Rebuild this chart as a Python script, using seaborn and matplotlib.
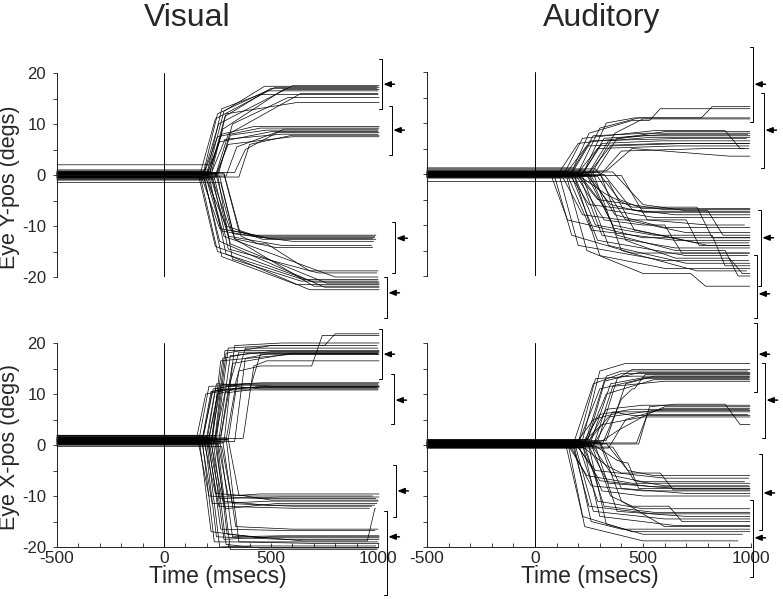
import matplotlib
matplotlib.use("Agg")
import matplotlib.pyplot as plt
import pandas as pd
import seaborn as sns
from matplotlib.ticker import MultipleLocator, FixedLocator

sns.set_theme(style="white")
plt.rcParams['font.family'] = ['Liberation Sans', 'DejaVu Sans']
plt.rcParams['axes.unicode_minus'] = False

# Each trace: start level, saccade onset, end of fast phase (t, y),
# settled position (t, y), end of record. Optional late corrective step.

# ---- Visual, vertical (Eye Y-pos) ----
vy_start = [0.4, -0.3, 0.8, 0.2, -0.6, 0.5, 1.0, -0.2, 0.3, 2.0,
            0.0, -0.5, 0.6, 0.2, -0.8, 0.3, -0.2, 0.5, -0.4,
            -0.3, 0.4, -1.0, 0.1, -0.6, 0.5, -0.2, 0.2,
            0.2, -0.4, 0.6, -0.8, 0.3, -0.1, 0.7, -0.5, 0.1, -1.5, 0.4]
vy_onset = [170, 180, 190, 200, 205, 215, 225, 240, 255, 215,
            185, 195, 205, 220, 235, 250, 290, 330, 350,
            175, 190, 200, 215, 225, 240, 260, 280,
            160, 170, 180, 190, 200, 210, 220, 235, 250, 265, 280]
vy_fast_t = [240, 250, 255, 270, 275, 285, 290, 300, 320, 280,
             250, 260, 270, 285, 300, 310, 340, 380, 400,
             260, 270, 290, 300, 310, 320, 330, 350,
             240, 250, 260, 270, 280, 290, 300, 310, 320, 330, 360]
vy_fast_y = [11, 12, 10, 13, 9, 11.5, 12, 8, 10, 12.5,
             7.5, 6.5, 8, 7, 6, 7.8, 5.5, 5, 6,
             -10.5, -11, -10, -12, -10.8, -11.5, -12.5, -11,
             -14, -15, -13, -16, -12, -15.5, -14.5, -13.5, -16.5, -12.5, -12]
vy_settle_t = [520, 480, 600, 450, 560, 500, 620, 640, 580, 470,
               450, 500, 420, 550, 600, 480, 520, 560, 600,
               450, 500, 420, 550, 480, 600, 520, 460,
               700, 650, 750, 620, 800, 680, 720, 760, 640, 700, 440]
vy_settle_y = [17.2, 16.5, 17.5, 15.8, 16.8, 17.0, 14.2, 16.0, 15.2, 17.4,
               9.2, 8.5, 9.5, 8.0, 7.5, 8.8, 8.3, 9.0, 7.8,
               -12.0, -12.5, -11.8, -13.8, -12.3, -13.0, -14.2, -12.6,
               -21.0, -20.5, -22.0, -21.5, -20.0, -22.5, -19.2, -21.2, -20.8, -21.8, -13.5]
vy_stop = [1005, 1000, 1005, 1000, 1005, 995, 1005, 1000, 1005, 995,
           1005, 1000, 1005, 1000, 1005, 1000, 1005, 1000, 1005,
           985, 975, 990, 970, 985, 980, 975, 990,
           1005, 1000, 1005, 1005, 1000, 1005, 995, 1005, 1000, 1005, 1000]
vy_late_idx = [37]
vy_late_t0 = [480]
vy_late_t1 = [680]
vy_late_y = [-18.8]

# ---- Auditory, vertical (Eye Y-pos) ----
ay_start = [0.2, -0.3, 0.5, -0.5, 0.1, 1.2, -0.2, 0.3, -0.6, 0.0, 0.8, -0.4, 0.2, -0.1, 0.4, -0.3, 0.6,
            0.3, -0.4, 0.1, -0.7, 0.5, -0.2, 0.0, -0.5, 0.4, -0.1, 0.2, -0.6, 0.3, -0.3,
            0.1, -0.8, 0.6, -0.2, 0.0, -0.4, 0.2, 1.0, -0.5, 0.3, -0.1, -1.5, 0.4, -0.3]
ay_onset = [110, 130, 150, 160, 170, 180, 190, 200, 210, 220, 230, 240, 250, 260, 280, 300, 330,
            70, 90, 110, 130, 140, 150, 160, 170, 175, 180, 190, 195, 200, 210,
            215, 220, 230, 240, 250, 260, 270, 280, 290, 300, 320, 340, 360, 400]
ay_fast_t = [200, 220, 240, 250, 260, 270, 290, 300, 310, 320, 330, 340, 350, 370, 380, 400, 450,
             150, 170, 200, 220, 240, 260, 250, 290, 280, 300, 290, 320, 310, 330,
             340, 330, 360, 350, 380, 370, 400, 390, 420, 420, 450, 460, 500, 520]
ay_fast_y = [6, 7, 5.5, 8, 6.5, 7.5, 5, 9, 6, 7, 10, 6.5, 5.5, 8, 7, 4.5, 5,
             -9, -12, -14, -8, -15, -11, -6, -13, -10, -16, -5, -9, -12, -7,
             -14, -4, -10, -6, -12, -8, -15, -5, -9, -13, -7, -11, -6, -9]
ay_settle_t = [500, 550, 600, 450, 700, 520, 650, 480, 580, 620, 460, 540, 700, 500, 600, 800, 900,
               500, 450, 600, 400, 500, 650, 500, 700, 550, 600, 600, 500, 650, 550,
               700, 450, 750, 500, 650, 600, 750, 500, 700, 650, 650, 800, 700, 800]
ay_settle_y = [7.5, 8.5, 6.0, 10.5, 7.0, 8.0, 5.5, 11.0, 6.5, 7.8, 11.0, 7.2, 6.0, 10.8, 8.3, 5.0, 3.5,
               -12.5, -15.5, -17.0, -9.0, -19.5, -13.0, -7.3, -16.0, -12.0, -18.5, -7.0, -10.0, -14.5, -8.5,
               -17.5, -6.5, -13.5, -7.5, -15.0, -10.5, -19.0, -6.8, -11.5, -16.5, -8.0, -14.0, -7.2, -10.0]
ay_stop = [995, 990, 995, 995, 980, 995, 990, 995, 995, 985, 995, 995, 990, 995, 995, 970, 995,
           995, 995, 990, 995, 995, 995, 995, 985, 995, 995, 995, 990, 995, 995,
           995, 995, 990, 995, 995, 995, 980, 995, 995, 995, 995, 990, 995, 970]
ay_late_idx = [1, 3, 10, 20, 21, 25, 28, 32, 35, 40, 43]
ay_late_t0 = [880, 530, 770, 700, 720, 820, 600, 750, 880, 900, 800]
ay_late_t1 = [950, 580, 820, 760, 790, 880, 680, 820, 940, 960, 870]
ay_late_y = [5.0, 12.8, 13.2, -14.0, -22.0, -18.0, -15.5, -12.5, -20.0, -19.5, -12.0]

# ---- Visual, horizontal (Eye X-pos) ----
vx_start = [1.0, 0.5, 1.5, 0.8, 0.2, 1.2, 0.6, 1.8, 0.4, 1.0, 0.7, 1.3, 0.9, 0.0,
            0.9, 1.4, 0.3, 1.9, 0.7, 1.1, 0.5, 1.6, 0.2, 1.0,
            0.6, 1.2, 0.1, 1.7, 0.8, 0.3, 1.4, 0.9, -0.3, 1.1,
            1.0, 0.4, 1.5, 0.7, 0.0, 1.2, 0.8, 1.9, 0.3, 1.1, 0.6, 1.4]
vx_onset = [180, 195, 210, 225, 235, 245, 255, 265, 280, 300, 330, 370, 240, 220,
            150, 165, 175, 185, 200, 210, 220, 240, 260, 290,
            160, 175, 190, 200, 210, 220, 235, 250, 270, 300,
            165, 180, 190, 200, 210, 220, 230, 240, 250, 260, 275, 290]
vx_fast_t = [225, 240, 250, 275, 285, 300, 310, 320, 330, 350, 380, 420, 290, 265,
             195, 210, 220, 230, 245, 255, 265, 285, 305, 335,
             210, 225, 240, 255, 260, 275, 285, 300, 320, 350,
             220, 235, 245, 260, 265, 280, 290, 295, 310, 320, 335, 350]
vx_fast_y = [10.5, 11.0, 10.0, 17.0, 18.5, 19.0, 17.5, 16.0, 19.5, 14.5, 17.0, 15.5, 18.0, 16.5,
             10.0, 11.5, 10.5, 11.0, 12.0, 10.8, 11.8, 10.2, 11.0, 11.5,
             -10.0, -11.5, -9.5, -12.0, -10.5, -11.0, -12.5, -10.0, -11.5, -9.8,
             -17.0, -19.0, -18.0, -20.0, -16.5, -18.5, -19.5, -17.5, -20.5, -18.0, -16.0, -19.0]
vx_settle_t = [280, 300, 320, 400, 450, 500, 500, 600, 550, 450, 500, 480, 500, 600,
               350, 400, 450, 380, 500, 420, 460, 400, 500, 450,
               450, 500, 400, 600, 550, 480, 520, 450, 600, 500,
               450, 500, 550, 400, 600, 500, 450, 650, 500, 550, 600, 700]
vx_settle_y = [11.0, 11.5, 10.8, 18.0, 18.5, 19.5, 18.3, 18.0, 20.0, 15.5, 18.0, 16.5, 19.5, 17.8,
               11.2, 11.8, 11.5, 12.0, 11.6, 11.3, 12.2, 10.8, 11.5, 11.0,
               -10.5, -11.0, -10.0, -12.4, -10.2, -11.8, -11.5, -9.6, -12.0, -10.8,
               -18.2, -19.0, -18.5, -19.8, -16.8, -18.0, -20.2, -18.8, -20.5, -17.8, -16.5, -19.3]
vx_stop = [1005, 1000, 1005, 1000, 1005, 995, 1005, 1000, 1005, 1005, 1000, 1005, 1005, 1000,
           1005, 1000, 1005, 1000, 1005, 995, 1005, 1000, 1005, 1000,
           990, 1000, 975, 960, 1005, 985, 995, 1005, 970, 1000,
           1005, 1000, 1005, 990, 985, 1005, 1000, 990, 995, 1005, 1000, 1005]
vx_late_idx = [0, 1, 2, 9, 12, 41]
vx_late_t0 = [300, 330, 400, 690, 750, 950]
vx_late_t1 = [350, 380, 450, 740, 800, 985]
vx_late_y = [18.2, 19.0, 17.8, 21.5, 21.8, -12.5]

# ---- Auditory, horizontal (Eye X-pos) ----
ax_start = [0.5, -0.3, 0.8, 0.1, -0.5, 0.4, 1.0, 0.2, -0.2, 0.6, 0.0, 0.9,
            0.3, -0.4, 0.7, 0.0, 1.1, -0.1, 0.5, -0.6, 0.4, 0.2,
            0.2, -0.3, 0.6, 0.0, 0.9, -0.5, 0.4, 0.1, -0.2, 0.7, 0.3, -0.4,
            0.5, -0.2, 0.8, 0.1, -0.6, 0.3, 1.0, -0.1, 0.6, 0.2, -0.3, 0.4]
ax_onset = [180, 195, 205, 215, 225, 235, 245, 255, 270, 290, 310, 330,
            190, 210, 225, 240, 255, 270, 300, 340, 470, 480,
            150, 165, 180, 195, 210, 225, 240, 260, 280, 300, 330, 360,
            140, 155, 170, 180, 190, 200, 215, 230, 245, 260, 280, 300]
ax_fast_t = [270, 280, 300, 300, 320, 330, 330, 350, 360, 380, 400, 420,
             270, 300, 310, 330, 340, 360, 390, 420, 520, 530,
             240, 260, 280, 300, 310, 330, 340, 360, 380, 400, 430, 460,
             220, 230, 250, 260, 270, 290, 300, 320, 330, 350, 380, 400]
ax_fast_y = [12, 13, 11, 14.5, 12.5, 10, 13.5, 12, 11.5, 13, 9, 12,
             5, 6, 4, 7, 5.5, 6.5, 3, 5, 6, 7.5,
             -6, -8, -5, -7, -9, -4, -7.5, -6, -3, -8.5, -5, -7,
             -14, -16, -12, -15, -13, -11, -14, -12, -15.5, -10, -13, -11]
ax_settle_t = [400, 450, 500, 420, 480, 550, 400, 500, 600, 450, 450, 550,
               400, 450, 500, 500, 550, 450, 520, 600, 600, 650,
               450, 500, 600, 550, 500, 400, 650, 500, 420, 700, 550, 600,
               450, 500, 550, 400, 600, 500, 650, 550, 500, 450, 700, 600]
ax_settle_y = [14.0, 13.5, 13.0, 16.0, 14.2, 12.8, 14.5, 13.2, 12.5, 14.8, 11.0, 13.5,
               6.5, 7.0, 5.5, 7.8, 6.8, 5.8, 6.0, 7.2, 7.5, 8.0,
               -7.5, -9.0, -6.5, -8.2, -10.0, -5.5, -8.5, -7.2, -3.5, -9.5, -6.0, -8.0,
               -17.0, -18.8, -13.5, -16.5, -14.5, -12.5, -15.8, -13.2, -17.5, -12.0, -14.0, -16.0]
ax_stop = [995, 995, 990, 995, 995, 995, 985, 995, 995, 995, 995, 990,
           995, 990, 995, 995, 995, 995, 985, 995, 995, 995,
           995, 995, 990, 995, 995, 995, 995, 970, 995, 995, 995, 990,
           995, 940, 995, 995, 995, 995, 995, 995, 960, 995, 995, 995]
ax_late_idx = [10, 21, 27, 30, 43]
ax_late_t0 = [460, 880, 580, 430, 620]
ax_late_t1 = [510, 950, 640, 480, 680]
ax_late_y = [13.8, 4.0, -8.8, -8.5, -15.0]

# target windows (brackets) and target centres (arrows), degrees
vy_lo = [12.9, 3.9, -19.2, -28.0]
vy_hi = [22.7, 13.5, -9.2, -20.0]
vy_arrow = [17.8, 8.8, -12.4, -23.1]
ay_lo = [10.2, 1.2, -22.0, -28.2]
ay_hi = [24.9, 15.9, -7.1, -15.9]
ay_arrow = [17.6, 8.6, -12.5, -23.5]
vx_lo = [12.9, 4.1, -14.1, -29.5]
vx_hi = [22.7, 13.9, -3.9, -12.9]
vx_arrow = [17.8, 8.8, -9.0, -18.0]
ax_lo = [10.4, 1.4, -16.7, -25.9]
ax_hi = [23.9, 16.1, -1.8, -10.8]
ax_arrow = [17.8, 8.8, -9.4, -18.2]

# horizontal placement of the brackets (ms, beyond the time axis)
vy_bx = [1019, 1065, 1079, 1042]
ay_bx = [1009, 1060, 1046, 1028]
vx_bx = [1019, 1075, 1084, 1042]
ax_bx = [1028, 1065, 1051, 1009]


def build(start, onset, fast_t, fast_y, settle_t, settle_y, stop,
          late_idx, late_t0, late_t1, late_y):
    late = {i: (a, b, c) for i, a, b, c in zip(late_idx, late_t0, late_t1, late_y)}
    rows = []
    for i in range(len(start)):
        pts = [(-500, start[i]), (onset[i], start[i]),
               (fast_t[i], fast_y[i]), (settle_t[i], settle_y[i])]
        if i in late:
            a, b, c = late[i]
            pts += [(a, settle_y[i]), (b, c), (stop[i], c)]
        else:
            pts.append((stop[i], settle_y[i]))
        for k, (t, y) in enumerate(pts):
            rows.append({'trial': i, 'order': k, 'time': t, 'pos': y})
    return pd.DataFrame(rows)


df_vy = build(vy_start, vy_onset, vy_fast_t, vy_fast_y, vy_settle_t, vy_settle_y, vy_stop,
              vy_late_idx, vy_late_t0, vy_late_t1, vy_late_y)
df_ay = build(ay_start, ay_onset, ay_fast_t, ay_fast_y, ay_settle_t, ay_settle_y, ay_stop,
              ay_late_idx, ay_late_t0, ay_late_t1, ay_late_y)
df_vx = build(vx_start, vx_onset, vx_fast_t, vx_fast_y, vx_settle_t, vx_settle_y, vx_stop,
              vx_late_idx, vx_late_t0, vx_late_t1, vx_late_y)
df_ax = build(ax_start, ax_onset, ax_fast_t, ax_fast_y, ax_settle_t, ax_settle_y, ax_stop,
              ax_late_idx, ax_late_t0, ax_late_t1, ax_late_y)

W, H = 783, 599
fig = plt.figure(figsize=(W / 100, H / 100), dpi=100)
ax_tl = fig.add_axes([57 / W, 1 - 277 / H, 321 / W, 204 / H])
ax_tr = fig.add_axes([427 / W, 1 - 276 / H, 324 / W, 204 / H])
ax_bl = fig.add_axes([57 / W, 1 - 547 / H, 321 / W, 204 / H])
ax_br = fig.add_axes([427 / W, 1 - 547 / H, 324 / W, 204 / H])

panels = [
    (ax_tl, df_vy, vy_lo, vy_hi, vy_arrow, vy_bx, True, False),
    (ax_tr, df_ay, ay_lo, ay_hi, ay_arrow, ay_bx, False, False),
    (ax_bl, df_vx, vx_lo, vx_hi, vx_arrow, vx_bx, True, True),
    (ax_br, df_ax, ax_lo, ax_hi, ax_arrow, ax_bx, False, True),
]

for ax, df, lo, hi, arr, bx, ylab, xaxis in panels:
    sns.lineplot(data=df, x='time', y='pos', units='trial', estimator=None, sort=False,
                 color='black', linewidth=0.5, ax=ax, legend=False)
    for ln in ax.lines:
        ln.set_clip_on(False)
    ax.axvline(0, color='black', lw=0.7)
    ax.set_xlim(-500, 1000)
    ax.set_ylim(-20, 20)
    ax.set_xlabel('')
    ax.set_ylabel('')
    ax.set_facecolor('none')
    for s in ['top', 'right']:
        ax.spines[s].set_visible(False)
    ax.spines['left'].set_linewidth(0.7)
    ax.spines['left'].set_color('#222222')
    ax.yaxis.set_major_locator(FixedLocator([-20, -10, 0, 10, 20]))
    ax.yaxis.set_minor_locator(MultipleLocator(5))
    ax.tick_params(axis='y', which='both', direction='out', length=3, width=0.6,
                   color='#222222', left=True, labelleft=ylab, labelsize=12, pad=5)
    if xaxis:
        ax.spines['bottom'].set_linewidth(0.7)
        ax.spines['bottom'].set_color('#222222')
        ax.xaxis.set_major_locator(FixedLocator([-500, 0, 500, 1000]))
        ax.xaxis.set_minor_locator(MultipleLocator(100))
        ax.tick_params(axis='x', which='both', direction='in', length=3, width=0.6,
                       color='#222222', bottom=True, labelsize=12.5, pad=3)
    else:
        ax.spines['bottom'].set_visible(False)
        ax.tick_params(axis='x', which='both', bottom=False, labelbottom=False)

    # target brackets with arrows
    for x, a, b, m in zip(bx, lo, hi, arr):
        ax.plot([x - 14, x, x, x - 14], [a, a, b, b], color='black', lw=0.7, clip_on=False)
        ax.annotate('', xy=(x + 6, m), xytext=(x + 58, m),
                    arrowprops=dict(arrowstyle='-|>,head_length=0.35,head_width=0.14',
                                    color='black', lw=1.1, shrinkA=0, shrinkB=0),
                    annotation_clip=False)

fig.text(187 / W, 1 - 18 / H, 'Visual', ha='center', va='center', fontsize=23)
fig.text(602 / W, 1 - 18 / H, 'Auditory', ha='center', va='center', fontsize=23)
fig.text(10 / W, 1 - 187 / H, 'Eye Y-pos (degs)', rotation=90, ha='center', va='center', fontsize=15.5)
fig.text(10 / W, 1 - 447 / H, 'Eye X-pos (degs)', rotation=90, ha='center', va='center', fontsize=15.5)
fig.text(218 / W, 1 - 577 / H, 'Time (msecs)', ha='center', va='center', fontsize=16.5)
fig.text(590 / W, 1 - 577 / H, 'Time (msecs)', ha='center', va='center', fontsize=16.5)

fig.savefig('out.png', dpi=100, facecolor='white')
